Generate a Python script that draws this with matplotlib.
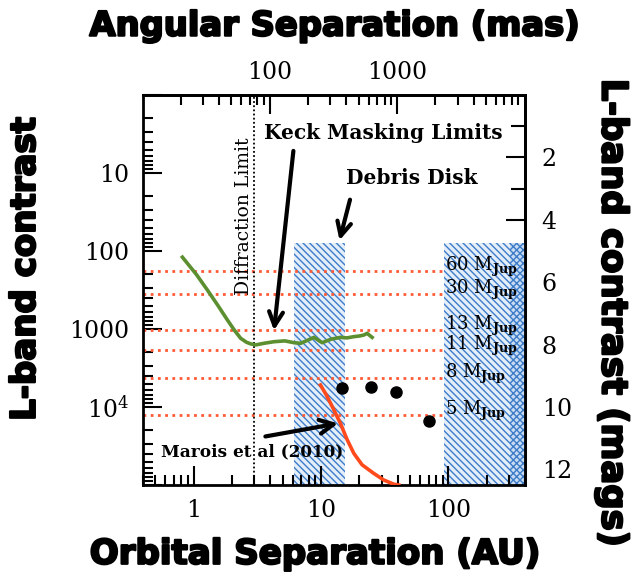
import numpy as np
import matplotlib.pyplot as plt
import matplotlib.patheffects as pe
from matplotlib.ticker import FixedLocator, FuncFormatter, NullFormatter, LogLocator

plt.rcParams['mathtext.fontset'] = 'dejavuserif'
plt.rcParams['hatch.linewidth'] = 1.0

# Keck masking limit (green)
keck_au = [0.815, 1.05, 1.28, 1.55, 1.84, 2.1, 2.34, 2.6, 2.8, 3.06, 3.6, 4.27, 5.2, 6.12, 6.9, 7.8, 8.79, 10.2, 12.0, 14.2, 16.0, 18.1, 20.0, 21.7, 23.0, 25.2]
keck_contrast = [120, 200, 316, 500, 767, 1050, 1318, 1480, 1550, 1600, 1520, 1455, 1420, 1497, 1527, 1400, 1280, 1497, 1350, 1280, 1300, 1253, 1230, 1194, 1137, 1280]

# Marois et al (2010) curve (red)
marois_au = [9.9, 11.0, 12.3, 14.2, 16.0, 18.1, 21.0, 25.9, 31.0, 37.2, 40.8]
marois_contrast = [5220, 7000, 10000, 16200, 26000, 39300, 55000, 70800, 86000, 97600, 100000]

# HR 8799 planets
planet_au = [14.5, 24.9, 38.9, 70.1]
planet_contrast = [5760, 5500, 6470, 15100]

# mass limits
mass_labels = ['60', '30', '13', '11', '8', '5']
mass_contrast = [180, 355, 1030, 1860, 4250, 12700]

# hatched zones
debris_au = [6.1, 15.3]
outer_au = [92, 400]
outer_dense_au = [306, 400]
zone_top = 79

diffraction_au = 3.0
distance_pc = 39.4


def au_to_mas(a):
    return np.asarray(a) / distance_pc * 1000.0


def mas_to_au(m):
    return np.asarray(m) * distance_pc / 1000.0


def contrast_to_mag(c):
    return 2.5 * np.log10(np.asarray(c))


def mag_to_contrast(m):
    return 10 ** (np.asarray(m) / 2.5)


fig = plt.figure(figsize=(6.34, 5.81), dpi=100)
ax = fig.add_axes([0.2256, 0.1652, 0.6025, 0.6713])
ax.set_xscale('log')
ax.set_yscale('log')
ax.set_xlim(0.4, 400)
ax.set_ylim(1e5, 1)

blue = '#3d7cc9'
ax.fill_between(debris_au, zone_top, 1e5, facecolor='#e4eef9', edgecolor=blue, hatch='\\\\\\\\\\', lw=0, zorder=1)
ax.fill_between(outer_au, zone_top, 1e5, facecolor='#e4eef9', edgecolor=blue, hatch='\\\\\\\\\\', lw=0, zorder=1)
ax.fill_between(outer_dense_au, zone_top, 1e5, facecolor='#c9dcf2', edgecolor=blue, hatch='xxxxx', lw=0, zorder=1)

# mass lines
ax.hlines(mass_contrast, 0.4, outer_au[0], colors='#ff5a36', linestyles=(0, (1, 1.6)), lw=2, zorder=2)
for lab, c in zip(mass_labels, mass_contrast):
    ax.text(outer_au[0] * 1.02, c, lab + r' M$_{\mathbf{Jup}}$', fontsize=13, family='DejaVu Serif',
            va='baseline', ha='left', zorder=5)

ax.axvline(diffraction_au, color='black', ls=(0, (1, 1.3)), lw=1.3, zorder=2)
ax.text(2.47, 36, 'Diffraction Limit', rotation=90, fontsize=13.5, family='DejaVu Serif',
        ha='center', va='center')

ax.plot(keck_au, keck_contrast, color='#5b8f2f', lw=2.6, zorder=3)
ax.plot(marois_au, marois_contrast, color='#ff4a1c', lw=2.6, zorder=3)
ax.plot(planet_au, planet_contrast, 'o', color='black', ms=8, zorder=4)

# annotations
ax.text(3.55, 3.07, 'Keck Masking Limits', fontsize=14.5, family='DejaVu Serif', weight='bold',
        ha='left', va='center')
ax.annotate('', xy=(4.25, 1130), xytext=(6.1, 4.8),
            arrowprops=dict(arrowstyle='->', lw=3, color='black', mutation_scale=25))
ax.text(15.6, 11.6, 'Debris Disk', fontsize=14.5, family='DejaVu Serif', weight='bold',
        ha='left', va='center')
ax.annotate('', xy=(13.8, 79), xytext=(17.1, 20.3),
            arrowprops=dict(arrowstyle='->', lw=3, color='black', mutation_scale=25))
ax.text(0.55, 37800, 'Marois et al (2010)', fontsize=12.2, family='DejaVu Serif', weight='bold',
        ha='left', va='center', zorder=5)
ax.annotate('', xy=(14.3, 16000), xytext=(3.48, 24200),
            arrowprops=dict(arrowstyle='->', lw=3, color='black', mutation_scale=25))

# ticks
left_labels = {10: '10', 100: '100', 1000: '1000', 10000: r'10$^4$'}
ax.yaxis.set_major_locator(LogLocator(base=10, numticks=10))
ax.yaxis.set_minor_locator(LogLocator(base=10, subs=np.arange(2, 10), numticks=10))
ax.yaxis.set_major_formatter(FuncFormatter(lambda v, p: left_labels.get(int(round(v)), '')))
ax.yaxis.set_minor_formatter(NullFormatter())
ax.xaxis.set_major_formatter(FuncFormatter(lambda v, p: '%g' % v))
ax.xaxis.set_minor_formatter(NullFormatter())
ax.tick_params(which='both', direction='in', top=False, right=False, width=1.5,
               labelsize=17, pad=10)
ax.tick_params(which='major', length=14)
ax.tick_params(which='minor', length=7)
for lab in ax.get_xticklabels() + ax.get_yticklabels():
    lab.set_family('DejaVu Serif')
for s in ax.spines.values():
    s.set_linewidth(2)

top = ax.secondary_xaxis('top', functions=(au_to_mas, mas_to_au))
top.xaxis.set_major_locator(FixedLocator([100, 1000]))
top.xaxis.set_minor_locator(FixedLocator([20, 30, 40, 50, 60, 70, 80, 90, 200, 300, 400, 500, 600, 700, 800, 900,
                                          2000, 3000, 4000, 5000, 6000, 7000, 8000, 9000]))
top.xaxis.set_major_formatter(FuncFormatter(lambda v, p: '%g' % v))
top.xaxis.set_minor_formatter(NullFormatter())
top.tick_params(which='both', direction='in', width=1.5, labelsize=17, pad=8)
top.tick_params(which='major', length=14)
top.tick_params(which='minor', length=7)
for lab in top.get_xticklabels():
    lab.set_family('DejaVu Serif')
top.spines['top'].set_linewidth(2)

right = ax.secondary_yaxis('right', functions=(contrast_to_mag, mag_to_contrast))
right.yaxis.set_major_locator(FixedLocator([2, 4, 6, 8, 10, 12]))
right.yaxis.set_minor_locator(FixedLocator([1, 3, 5, 7, 9, 11]))
right.yaxis.set_major_formatter(FuncFormatter(lambda v, p: '%d' % v))
right.yaxis.set_minor_formatter(NullFormatter())
right.tick_params(which='both', direction='in', width=1.5, labelsize=17, pad=12)
right.tick_params(which='major', length=14)
right.tick_params(which='minor', length=10)
for lab in right.get_yticklabels():
    lab.set_family('DejaVu Serif')
right.spines['right'].set_linewidth(2)

# big axis titles
heavy = [pe.withStroke(linewidth=1.6, foreground='black')]
title_kw = dict(weight='heavy', family='DejaVu Sans', path_effects=heavy)
fig.text(0.528, 0.955, 'Angular Separation (mas)', ha='center', va='center', fontsize=24.3, **title_kw)
fig.text(0.497, 0.046, 'Orbital Separation (AU)', ha='center', va='center', fontsize=24.5, **title_kw)
fig.text(0.04, 0.537, 'L-band contrast', rotation=90, ha='center', va='center', fontsize=24.5, **title_kw)
fig.text(0.966, 0.462, 'L-band contrast (mags)', rotation=270, ha='center', va='center', fontsize=25.5, **title_kw)

plt.savefig('out.png', dpi=100)
